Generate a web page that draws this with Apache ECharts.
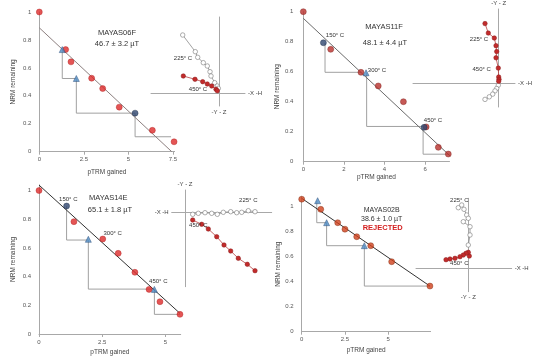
<!DOCTYPE html>
<html>
<head>
<meta charset="utf-8">
<script src="https://cdn.jsdelivr.net/npm/echarts@6/dist/echarts.min.js"></script>
<style>
  html, body { margin: 0; background: #fff; }
  #chart { width: 533px; height: 360px; }
</style>
</head>
<body>
<div id="chart"></div>
<script>
// Arai plots: [pTRM gained, NRM remaining]
const a1Pts = [[0, 1.0], [1.48, 0.731], [1.78, 0.643], [2.94, 0.526], [3.56, 0.452], [4.49, 0.319], [6.35, 0.153], [7.57, 0.071]];
const a1Dark = [[5.38, 0.276]];
const a1Tri = [[1.29, 0.731], [2.08, 0.524]];
const a1Checks = [[1.29, 0.731, 0.524, 2.08], [2.08, 0.524, 0.276, 5.38], [5.38, 0.276, 0.107, 7.4]];
const a1Fit = [[0, 0.887], [7.44, 0]];

const a2Pts = [[0, 1.0], [1.35, 0.749], [2.84, 0.596], [3.69, 0.505], [4.93, 0.40], [6.05, 0.232], [6.65, 0.096], [7.14, 0.051]];
const a2Dark = [[0.99, 0.793], [5.95, 0.229]];
const a2Tri = [[3.09, 0.593]];
const a2Checks = [[1.07, 0.793, 0.596, 2.84], [3.12, 0.593, 0.235, 5.9], [5.9, 0.235, 0.05, 7.2]];
const a2Fit = [[0, 0.956], [7.23, 0.038]];

const a3Pts = [[0, 1.0], [1.38, 0.783], [2.52, 0.662], [3.13, 0.562], [3.79, 0.43], [4.35, 0.311], [4.78, 0.225], [5.57, 0.137]];
const a3Dark = [[1.09, 0.892]];
const a3Tri = [[1.95, 0.66], [4.56, 0.311]];
const a3Checks = [[1.09, 0.892, 0.655, 1.95], [1.95, 0.655, 0.313, 4.56], [4.56, 0.313, 0.137, 5.57]];
const a3Fit = [[0, 1.038], [5.57, 0.144]];

const a4Pts = [[0, 1.06], [1.1, 0.979], [2.08, 0.872], [2.5, 0.82], [3.18, 0.76], [3.99, 0.688], [5.2, 0.56], [7.41, 0.365]];
const a4Dark = [];
const a4Tri = [[0.92, 1.048], [1.44, 0.872], [3.62, 0.688]];
const a4Checks = [[0.87, 1.048, 0.872, 1.44], [1.44, 0.872, 0.688, 3.62], [3.62, 0.688, 0.365, 7.41]];
const a4Fit = [[0, 1.067], [7.41, 0.365]];

const yTicks = [0, 0.2, 0.4, 0.6, 0.8, 1];
const x1Ticks = [0, 2.5, 5, 7.5];
const x2Ticks = [0, 2, 4, 6];
const x3Ticks = [0, 2.5, 5];

// Zijderveld insets: [horizontal, vertical], arbitrary units
const z1Open = [[-36.3, 58], [-23.7, 41.3], [-21.3, 35.7], [-15.7, 30.3], [-11.7, 27], [-9, 21.3], [-8, 17], [-4.3, 10.3], [-1.7, 7], [-0.7, 4.7]];
const z1Red = [[-35.7, 17], [-24, 13.7], [-16.3, 11.3], [-11.7, 9], [-7.3, 7], [-3, 3.7], [-1.7, 2.3]];
const z2Red = [[-13.7, 60], [-10.4, 50.4], [-4.4, 45.4], [-2.7, 37.7], [-2, 31.7], [-2.7, 25.4], [-0.4, 15], [0, 6], [0.3, 3.7], [0, 1.7]];
const z2Open = [[-0.4, -2.3], [-2, -5.6], [-3.7, -8], [-6, -11.3], [-9.4, -14], [-13.7, -16.6]];
const z3Open = [[7.7, -2], [13.3, -1], [20, -0.4], [26.7, -1], [32.3, -2], [38.3, 0], [45.7, 0.6], [51.7, -0.4], [56.7, 0], [63.3, 1.6], [70, 0.6]];
const z3Red = [[7.7, -7.7], [16.7, -12], [23.3, -16.7], [31.7, -24.4], [39, -32.7], [45.7, -38.7], [53.3, -46], [62.3, -52], [70, -58.4]];
const z4Open = [[-10, 60.6], [-6.6, 63.3], [-4.3, 59], [-1.6, 53.3], [0, 50], [-5, 46.6], [1.7, 41.6], [1.7, 33.3], [0, 23.3]];
const z4Red = [[1, 12.3], [0, 16], [-2.3, 15], [-5, 13.3], [-8.3, 11.6], [-13.3, 10], [-18.3, 9.3], [-22.3, 8.6]];

const FONT = 'Liberation Sans, Arial, sans-serif';
const grids = [], xAxes = [], yAxes = [], series = [];

function arai(box, xMax, yMax, xTicks, d, st) {
  const i = grids.length;
  grids.push({left: box[0], top: box[1], width: box[2], height: box[3]});
  const line = {lineStyle: {color: '#a8a8a8', width: 1}};
  xAxes.push({
    gridIndex: i, type: 'value', min: 0, max: xMax,
    name: 'pTRM gained', nameLocation: 'middle', nameGap: st.xGap,
    nameTextStyle: {fontSize: 6.5, color: '#444', fontFamily: FONT},
    axisLine: line,
    axisTick: {customValues: xTicks, length: 3, lineStyle: {color: '#a8a8a8'}},
    axisLabel: {customValues: xTicks, fontSize: 6, color: '#555', margin: 5, fontFamily: FONT},
    splitLine: {show: false}
  });
  yAxes.push({
    gridIndex: i, type: 'value', min: 0, max: yMax,
    name: 'NRM remaining', nameLocation: 'middle', nameGap: st.yGap, nameRotate: 90,
    nameTextStyle: {fontSize: 6.5, color: '#444', fontFamily: FONT},
    axisLine: {show: true, lineStyle: {color: '#a8a8a8', width: 1}},
    axisTick: {show: false},
    axisLabel: {customValues: yTicks, fontSize: 6, color: '#555', margin: st.yMargin, fontFamily: FONT},
    splitLine: {show: false}
  });
  const ax = {xAxisIndex: i, yAxisIndex: i};
  d.checks.forEach(c => series.push(Object.assign({
    type: 'line', data: [[c[0], c[1]], [c[0], c[2]], [c[3], c[2]]], symbol: 'none',
    lineStyle: {color: '#a0a0a0', width: 1}, z: 1
  }, ax)));
  series.push(Object.assign({
    type: 'line', data: d.fit, symbol: 'none', lineStyle: {color: st.fit, width: 1}, z: 2
  }, ax));
  series.push(Object.assign({
    type: 'scatter', data: d.pts, symbolSize: 6,
    itemStyle: {color: st.red, borderColor: st.redBorder, borderWidth: 0.5}, z: 3
  }, ax));
  series.push(Object.assign({
    type: 'scatter', data: d.dark, symbolSize: 6,
    itemStyle: {color: '#2f466f', borderColor: '#1c2a44', borderWidth: 0.5}, z: 4
  }, ax));
  series.push(Object.assign({
    type: 'scatter', data: d.tri, symbol: 'triangle', symbolSize: 6,
    itemStyle: {color: '#4f8cc4', borderColor: '#2c4f7a', borderWidth: 0.6}, z: 4
  }, ax));
}

function zij(box, xr, yr, open, red, names) {
  const i = grids.length;
  grids.push({left: box[0], top: box[1], width: box[2], height: box[3]});
  const base = {
    gridIndex: i, type: 'value',
    axisLine: {onZero: true, lineStyle: {color: '#a8a8a8', width: 1}},
    axisTick: {show: false}, axisLabel: {show: false}, splitLine: {show: false},
    nameTextStyle: {fontSize: 6, color: '#444', fontFamily: FONT}, nameGap: 3
  };
  xAxes.push(Object.assign({}, base, {min: xr[0], max: xr[1], name: '-X -H', nameLocation: names.x}));
  yAxes.push(Object.assign({}, base, {min: yr[0], max: yr[1], name: '-Y - Z', nameLocation: names.y}));
  const ax = {xAxisIndex: i, yAxisIndex: i};
  series.push(Object.assign({
    type: 'line', data: open, symbol: 'circle', symbolSize: 4.5,
    itemStyle: {color: '#fff', borderColor: '#777', borderWidth: 0.6},
    lineStyle: {color: '#8a8a8a', width: 0.8}, z: 3
  }, ax));
  series.push(Object.assign({
    type: 'line', data: red, symbol: 'circle', symbolSize: 4.5,
    itemStyle: {color: '#c22b2b', borderColor: '#8a1c1c', borderWidth: 0.5},
    lineStyle: {color: '#b84040', width: 0.8}, z: 3
  }, ax));
}

arai([39.3, 12, 135.3, 139.7], 7.6, 1, x1Ticks,
  {pts: a1Pts, dark: a1Dark, tri: a1Tri, checks: a1Checks, fit: a1Fit},
  {xGap: 17, yGap: 23, yMargin: 8, fit: '#8c7f7f', red: '#dd2a2a', redBorder: '#b01e1e'});
arai([303.3, 11.7, 146.2, 150], 7.2, 1, x2Ticks,
  {pts: a2Pts, dark: a2Dark, tri: a2Tri, checks: a2Checks, fit: a2Fit},
  {xGap: 12, yGap: 16, yMargin: 10, fit: '#6a6a6a', red: '#b8302c', redBorder: '#7a1e1a'});
arai([39, 184.8, 141.7, 149.2], 5.6, 1.04, x3Ticks,
  {pts: a3Pts, dark: a3Dark, tri: a3Tri, checks: a3Checks, fit: a3Fit},
  {xGap: 15, yGap: 22, yMargin: 8, fit: '#333', red: '#dd2a2a', redBorder: '#b01e1e'});
arai([301.7, 196.7, 128.9, 135], 7.45, 1.08, x3Ticks,
  {pts: a4Pts, dark: a4Dark, tri: a4Tri, checks: a4Checks, fit: a4Fit},
  {xGap: 15, yGap: 20, yMargin: 8, fit: '#333', red: '#d0401c', redBorder: '#7a2a10'});

zij([151, 17, 94, 89], [-68, 26], [-13, 76], z1Open, z1Red, {x: 'end', y: 'start'});
zij([413, 8, 102, 99], [-85.7, 16.3], [-24.3, 74.7], z2Open, z2Red, {x: 'end', y: 'end'});
zij([171.7, 190, 100, 96.7], [-13.3, 86.7], [-74.4, 22.3], z3Open, z3Red, {x: 'start', y: 'end'});
zij([416, 198.3, 95.7, 93.4], [-52.3, 43.4], [-23.4, 70], z4Open, z4Red, {x: 'end', y: 'start'});

function txt(x, y, text, size, extra) {
  return {
    type: 'text', x: x, y: y, z: 10,
    style: Object.assign({text: text, fontSize: size, fill: '#333', fontFamily: FONT,
      align: 'center', verticalAlign: 'middle'}, extra || {})
  };
}

const graphic = [
  txt(117, 33, 'MAYAS06F', 7.5), txt(117, 43.5, '46.7 ± 3.2 µT', 7.5),
  txt(183, 58, '225° C', 6), txt(198, 89, '450° C', 6),
  txt(384, 27, 'MAYAS11F', 7.5), txt(385, 42.7, '48.1 ± 4.4 µT', 7.5),
  txt(335, 35, '150° C', 6), txt(377, 70, '300° C', 6), txt(433, 120, '450° C', 6),
  txt(479, 39.3, '225° C', 6), txt(481.7, 69.3, '450° C', 6),
  txt(108.3, 198.3, 'MAYAS14E', 7.5), txt(110, 209.5, '65.1 ± 1.8 µT', 7.5),
  txt(68.3, 199.3, '150° C', 6), txt(112.7, 233.3, '300° C', 6), txt(158.3, 281, '450° C', 6),
  txt(248.3, 200, '225° C', 6), txt(198.3, 225.7, '450° C', 6),
  txt(381.7, 210, 'MAYAS02B', 7), txt(381.7, 219, '38.6 ± 1.0 µT', 7),
  txt(382.7, 228, 'REJECTED', 7.5, {fill: '#d42020', fontWeight: 'bold'}),
  txt(459.3, 200, '225° C', 6), txt(459.3, 263.3, '450° C', 6)
];

const chart = echarts.init(document.getElementById('chart'));
chart.setOption({
  backgroundColor: '#fff',
  animation: false,
  grid: grids,
  xAxis: xAxes,
  yAxis: yAxes,
  series: series,
  graphic: graphic
});
</script>
</body>
</html>
